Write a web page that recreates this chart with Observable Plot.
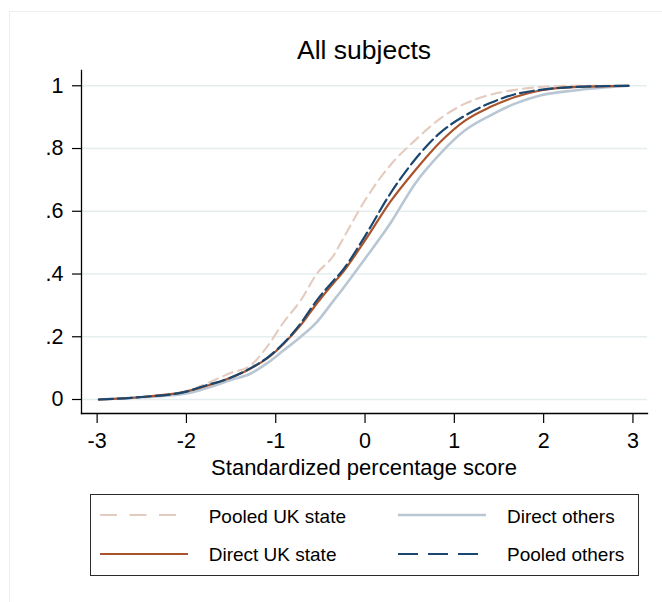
<!DOCTYPE html>
<html>
<head>
<meta charset="utf-8">
<script src="https://cdn.jsdelivr.net/npm/d3@7"></script>
<script src="https://cdn.jsdelivr.net/npm/@observablehq/plot@0.6"></script>
<style>
html, body { margin: 0; padding: 0; background: #fff; overflow: hidden; }
#wrap { position: relative; width: 662px; height: 602px; font-family: "Liberation Sans", Arial, Helvetica, sans-serif; color: #000; overflow: hidden; }
#outer { position: absolute; left: 9px; top: 11px; width: 720px; height: 720px; border: 1.5px solid #e9efef; box-sizing: border-box; }
#chart { position: absolute; left: 0; top: 0; }
#title { position: absolute; left: 81px; width: 566px; top: 34px; text-align: center; font-size: 26.5px; line-height: 32px; }
#xlabel { position: absolute; left: 81px; width: 566px; top: 454px; text-align: center; font-size: 22px; line-height: 28px; }
#legend { position: absolute; left: 90px; top: 494px; width: 549px; height: 82px; border: 1.3px solid #2a2a2a; box-sizing: border-box; }
.item { position: absolute; height: 30px; width: 240px; }
.item svg { position: absolute; left: 0; top: 0; }
.item span { position: absolute; top: 5.5px; font-size: 19px; line-height: 22px; white-space: nowrap; }
</style>
</head>
<body>
<div id="wrap">
  <div id="outer"></div>
  <div id="chart"></div>
  <div id="title"></div>
  <div id="xlabel"></div>
  <div id="legend"></div>
</div>
<script>
// ---- data ----
const scoreX = [-2.98, -2.5, -2, -1.84, -1.5, -1.28, -1.1, -0.91, -0.72, -0.54, -0.35, -0.27, 0, 0.28, 0.56, 0.84, 1.12, 1.4, 1.68, 1.96, 2.34, 2.95];
const pooledUKState = [0, 0.008, 0.024, 0.043, 0.085, 0.109, 0.167, 0.247, 0.316, 0.401, 0.46, 0.5, 0.635, 0.746, 0.826, 0.895, 0.943, 0.971, 0.987, 0.996, 1, 1];
const directUKState = [0, 0.008, 0.026, 0.038, 0.07, 0.099, 0.13, 0.178, 0.237, 0.306, 0.372, 0.398, 0.507, 0.629, 0.73, 0.82, 0.889, 0.932, 0.964, 0.985, 0.996, 1];
const directOthers  = [0, 0.007, 0.019, 0.03, 0.062, 0.083, 0.115, 0.157, 0.2, 0.247, 0.316, 0.345, 0.449, 0.56, 0.688, 0.783, 0.858, 0.905, 0.943, 0.969, 0.985, 1];
const pooledOthers  = [0, 0.008, 0.025, 0.04, 0.07, 0.1, 0.132, 0.18, 0.243, 0.316, 0.38, 0.405, 0.521, 0.655, 0.765, 0.85, 0.905, 0.945, 0.973, 0.987, 0.996, 1];
const seriesNames = ["Pooled UK state", "Direct others", "Direct UK state", "Pooled others"];
const seriesValues = [pooledUKState, directOthers, directUKState, pooledOthers];
const xTicks = [-3, -2, -1, 0, 1, 2, 3];
const xTickLabels = ["-3", "-2", "-1", "0", "1", "2", "3"];
const yTicks = [0, 0.2, 0.4, 0.6, 0.8, 1];
const yTickLabels = ["0", ".2", ".4", ".6", ".8", "1"];
const titleText = "All subjects";
const xLabelText = "Standardized percentage score";

// ---- styles ----
const styles = {
  "Pooled UK state": {stroke: "#e4cbbf", width: 2.1, dash: "10,6", legendDash: "17,12.5"},
  "Direct others":   {stroke: "#b9c7d4", width: 2.6, dash: null, legendDash: null},
  "Direct UK state": {stroke: "#a9542d", width: 2.2, dash: null, legendDash: null},
  "Pooled others":   {stroke: "#1a476f", width: 2.2, dash: "14,5", legendDash: "20,10"}
};
const drawOrder = ["Pooled UK state", "Direct others", "Direct UK state", "Pooled others"];

const rows = seriesNames.flatMap((name, k) => scoreX.map((x, i) => ({series: name, x, y: seriesValues[k][i]})));

const lineMarks = drawOrder.map(name => {
  const s = styles[name];
  const opts = {x: "x", y: "y", stroke: s.stroke, strokeWidth: s.width, curve: "monotone-x"};
  if (s.dash) opts.strokeDasharray = s.dash;
  return Plot.line(rows.filter(d => d.series === name), opts);
});

const chart = Plot.plot({
  width: 662,
  height: 480,
  marginLeft: 81,
  marginRight: 15,
  marginTop: 70,
  marginBottom: 67,
  style: {fontFamily: "'Liberation Sans', Arial, sans-serif", fontSize: "21.5px", color: "#000", background: "transparent", overflow: "visible"},
  x: {domain: [-3.175, 3.163]},
  y: {domain: [-0.0446, 1.0487]},
  marks: [
    Plot.gridY(yTicks, {stroke: "#e5eeef", strokeOpacity: 1, strokeWidth: 1.6}),
    ...lineMarks,
    Plot.frame({anchor: "left", stroke: "#000", strokeWidth: 1.3}),
    Plot.frame({anchor: "bottom", stroke: "#000", strokeWidth: 1.3}),
    Plot.axisY(yTicks, {tickSize: 9, tickPadding: 9, strokeWidth: 1.2, fontSize: 21.5, label: null,
      tickFormat: d => yTickLabels[yTicks.indexOf(d)]}),
    Plot.axisX(xTicks, {tickSize: 10, tickPadding: 9, strokeWidth: 1.2, fontSize: 21.5, label: null,
      tickFormat: d => xTickLabels[xTicks.indexOf(d)]})
  ]
});
document.getElementById("chart").appendChild(chart);
document.getElementById("title").textContent = titleText;
document.getElementById("xlabel").textContent = xLabelText;

// ---- legend (two columns, row-major as in the reference) ----
const legend = document.getElementById("legend");
const legendPos = [
  {left: 7.7, top: 5.4},   // Pooled UK state
  {left: 306, top: 5.4},   // Direct others
  {left: 7.7, top: 43.7},  // Direct UK state
  {left: 306, top: 43.7}   // Pooled others
];
const svgNS = "http://www.w3.org/2000/svg";
seriesNames.forEach((name, k) => {
  const s = styles[name];
  const item = document.createElement("div");
  item.className = "item";
  item.style.left = legendPos[k].left + "px";
  item.style.top = legendPos[k].top + "px";
  const svg = document.createElementNS(svgNS, "svg");
  svg.setAttribute("width", "92");
  svg.setAttribute("height", "30");
  const ln = document.createElementNS(svgNS, "line");
  ln.setAttribute("x1", "1"); ln.setAttribute("x2", "89");
  ln.setAttribute("y1", "15"); ln.setAttribute("y2", "15");
  ln.setAttribute("stroke", s.stroke);
  ln.setAttribute("stroke-width", s.width);
  if (s.legendDash) ln.setAttribute("stroke-dasharray", s.legendDash);
  svg.appendChild(ln);
  item.appendChild(svg);
  const span = document.createElement("span");
  span.style.left = "110px";
  span.textContent = name;
  item.appendChild(span);
  legend.appendChild(item);
});
</script>
</body>
</html>
